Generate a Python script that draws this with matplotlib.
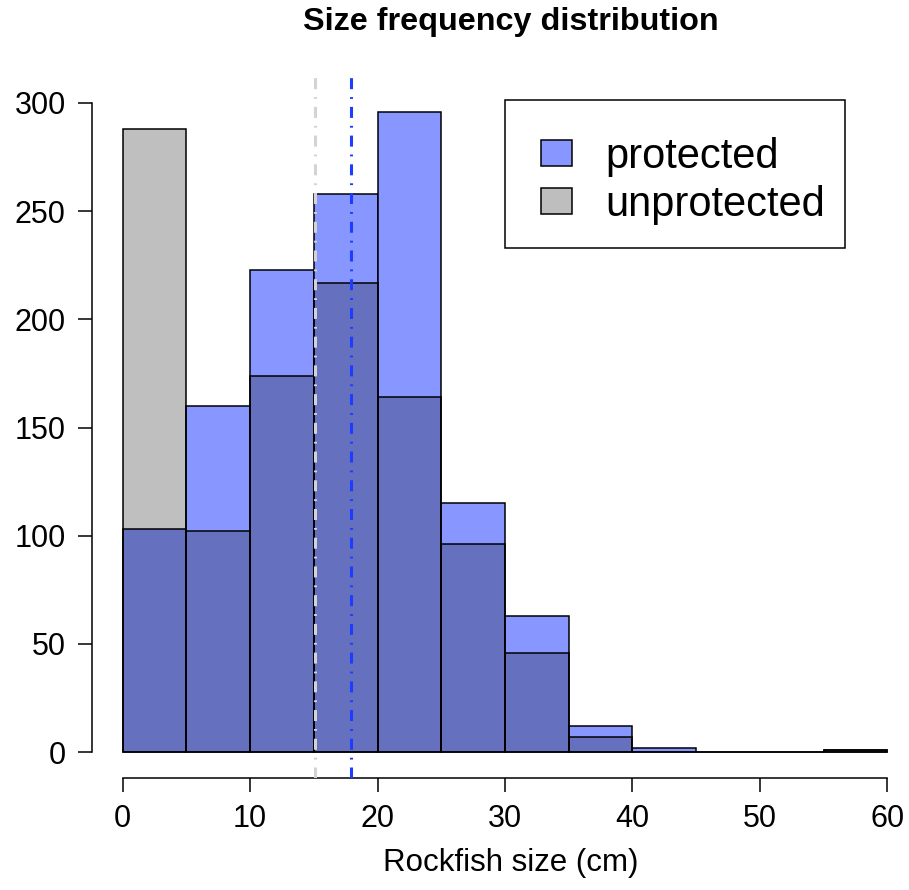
import numpy as np
import matplotlib.pyplot as plt
from matplotlib.patches import Patch, Rectangle

# histogram counts per 5 cm bin
bin_left = [0, 5, 10, 15, 20, 25, 30, 35, 40, 45, 50, 55]
protected = [103, 160, 223, 258, 296, 115, 63, 12, 2, 0, 0, 1]
unprotected = [288, 102, 174, 217, 164, 96, 46, 7, 0, 0, 0, 1]
bin_width = 5

# mean sizes (dash-dot lines)
mean_unprotected = 15.08
mean_protected = 17.9

x_ticks = [0, 10, 20, 30, 40, 50, 60]
y_ticks = [0, 50, 100, 150, 200, 250, 300]

plt.rcParams['font.family'] = ['Liberation Sans', 'DejaVu Sans']

fig = plt.figure(figsize=(9.09, 8.9), dpi=100)
W, H = 909, 890
# plot region in pixels (R style, 4% padding round the data)
left, right, top, bottom = 92, 918, 77, 778
ax = fig.add_axes([left / W, (H - bottom) / H, (right - left) / W, (bottom - top) / H])

blue = '#8797FF'
ax.bar(bin_left, protected, width=bin_width, align='edge', color=blue,
       edgecolor='black', linewidth=1.1, zorder=2)
ax.bar(bin_left, unprotected, width=bin_width, align='edge', color=(0, 0, 0, 0.25),
       edgecolor='black', linewidth=1.1, zorder=3)

ax.axvline(mean_unprotected, color='#D3D3D3', lw=2.2, ls=(0, (3.6, 2.6, 0.6, 2.6)), zorder=4)
ax.axvline(mean_protected, color='#1E3CFF', lw=2.2, ls=(0, (3.6, 2.6, 0.6, 2.6)), zorder=4)

ax.set_xlim(-2.4, 62.4)
ax.set_ylim(-12, 312)
for s in ['top', 'right']:
    ax.spines[s].set_visible(False)
ax.spines['left'].set_bounds(0, 300)
ax.spines['bottom'].set_bounds(0, 60)
for s in ['left', 'bottom']:
    ax.spines[s].set_linewidth(1.1)

ax.set_xticks(x_ticks)
ax.set_yticks(y_ticks)
ax.tick_params(labelsize=22, length=10, width=1.1, pad=9)

ax.set_xlabel('Rockfish size (cm)', fontsize=22.5, labelpad=14)
ax.xaxis.set_label_coords(0.507, -0.1)
fig.text(511 / W, 1 - 22 / H, 'Size frequency distribution',
         fontsize=23.3, fontweight='bold', ha='center', va='center')

# legend box drawn by hand (R puts more room left of the keys than right of the text)
box = Rectangle((0.5, 0.756), 0.412, 0.211, transform=ax.transAxes,
                facecolor='white', edgecolor='black', linewidth=1.1, zorder=5)
ax.add_patch(box)

handles = [Patch(facecolor=blue, edgecolor='black', linewidth=1.1),
           Patch(facecolor='#BEBEBE', edgecolor='black', linewidth=1.1)]
leg = ax.legend(handles, ['protected', 'unprotected'], loc='upper left',
                bbox_to_anchor=(0.5436, 0.915), fontsize=30, frameon=False,
                handlelength=0.75, handleheight=0.6, handletextpad=0.8,
                borderpad=0, borderaxespad=0, labelspacing=0.2)
leg.set_zorder(6)

fig.savefig('out.png', dpi=100)
